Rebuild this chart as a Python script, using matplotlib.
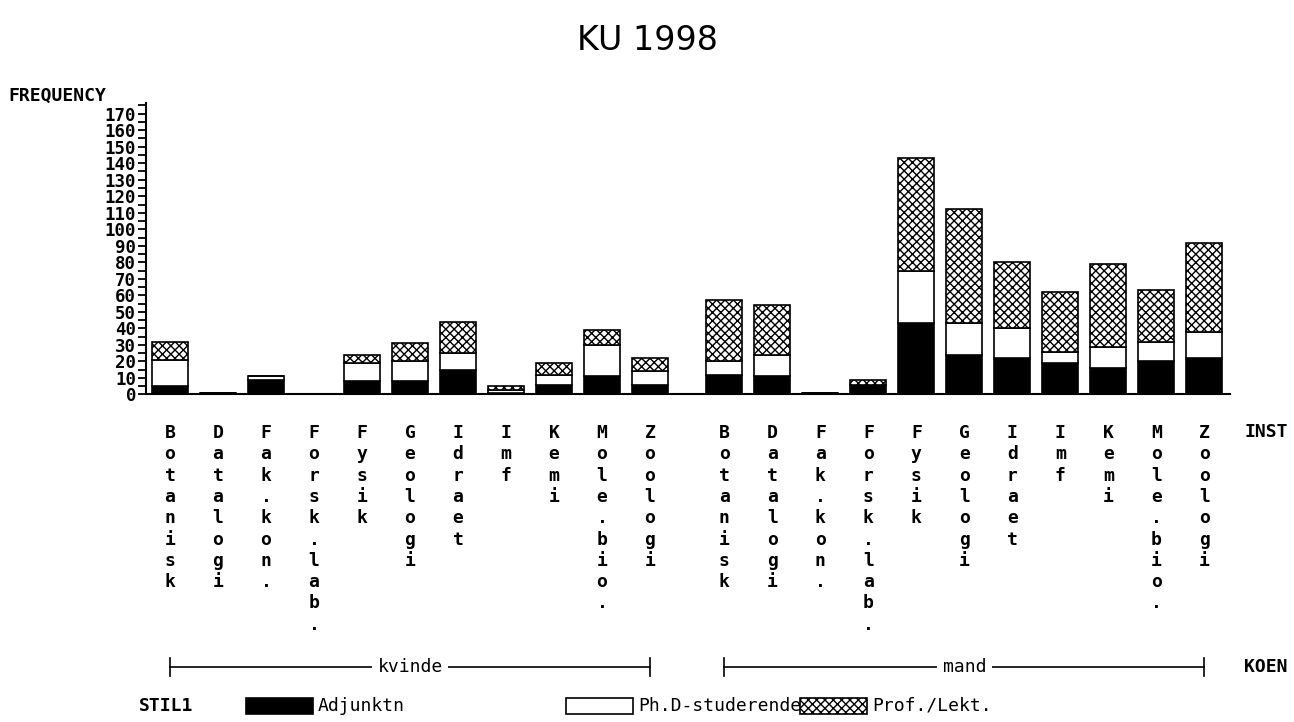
import matplotlib
matplotlib.use("Agg")
import matplotlib.pyplot as plt
from matplotlib.patches import Rectangle
from matplotlib.transforms import blended_transform_factory
from matplotlib.ticker import MultipleLocator
import numpy as np

inst = ["Botanisk", "Datalogi", "Fak.kon.", "Forsk.lab.", "Fysik", "Geologi",
        "Idraet", "Imf", "Kemi", "Mole.bio.", "Zoologi"]
koen = ["kvinde", "mand"]
stil = ["Adjunktn", "Ph.D-studerende", "Prof./Lekt."]

# counts per institute, kvinde
adj_k = [5, 1, 9, 0, 8, 8, 15, 1, 6, 11, 6]
phd_k = [16, 0, 2, 0, 11, 12, 10, 2, 6, 19, 8]
prof_k = [11, 0, 0, 0, 5, 11, 19, 2, 7, 9, 8]
# counts per institute, mand
adj_m = [12, 11, 1, 6, 43, 24, 22, 19, 16, 20, 22]
phd_m = [8, 13, 0, 0, 32, 19, 18, 7, 13, 12, 16]
prof_m = [37, 30, 0, 3, 68, 69, 40, 36, 50, 31, 54]

plt.rcParams['hatch.linewidth'] = 1.0
MONO = "DejaVu Sans Mono"
W, H = 1294, 722

fig = plt.figure(figsize=(W / 100, H / 100), dpi=100)

x0, x1 = 146, 1230
y0, y1 = 394.5, 103
ax = fig.add_axes([x0 / W, 1 - y0 / H, (x1 - x0) / W, (y0 - y1) / H])

n = len(inst)
gap = 1.55
pos_k = np.arange(n)
pos_m = np.arange(n) + n - 1 + gap
pos = np.concatenate([pos_k, pos_m])
adj = np.array(adj_k + adj_m)
phd = np.array(phd_k + phd_m)
prof = np.array(prof_k + prof_m)

bw = 0.75
kw = dict(width=bw, edgecolor="black", linewidth=1.2)
ax.bar(pos, adj, color="black", **kw)
ax.bar(pos, phd, bottom=adj, color="white", **kw)
ax.bar(pos, prof, bottom=adj + phd, color="white", hatch="xxxx", **kw)

ax.set_xlim(-0.5, (x1 - x0) / 48 - 0.5)
ax.set_ylim(0, (y0 - y1) / 1.652)
ax.yaxis.set_major_locator(MultipleLocator(10))
ax.yaxis.set_minor_locator(MultipleLocator(5))
ax.set_xticks([])
ax.spines["top"].set_visible(False)
ax.spines["right"].set_visible(False)
ax.spines["left"].set_linewidth(1.5)
ax.spines["bottom"].set_linewidth(1.5)
ax.tick_params(axis="y", which="major", length=6, width=1.3, pad=1)
ax.tick_params(axis="y", which="minor", length=6, width=1.3)
for t in ax.get_yticklabels():
    t.set_fontfamily(MONO)
    t.set_fontweight("bold")
    t.set_fontsize(12.5)

fig.text(647 / W, 1 - 40 / H, "KU 1998", ha="center", va="center", fontsize=24)
fig.text(8 / W, 1 - 96 / H, "FREQUENCY", ha="left", va="center",
         fontfamily=MONO, fontweight="bold", fontsize=13)

tr = blended_transform_factory(ax.transData, fig.transFigure)
for p, name in zip(pos, inst + inst):
    fig.text(p, 1 - 424 / H, "\n".join(name), transform=tr, ha="center", va="top",
             fontfamily=MONO, fontweight="bold", fontsize=13, linespacing=1.236)

fig.text(1244 / W, 1 - 432 / H, "INST", ha="left", va="center",
         fontfamily=MONO, fontweight="bold", fontsize=13)

yb = 1 - 667 / H
th = 9 / H
for grp, ps in zip(koen, [pos_k, pos_m]):
    a, b = ps[0], ps[-1]
    ax.plot([a, b], [yb, yb], transform=tr, color="black", lw=1.2, clip_on=False)
    ax.plot([a, a], [yb - th, yb + th], transform=tr, color="black", lw=1.2, clip_on=False)
    ax.plot([b, b], [yb - th, yb + th], transform=tr, color="black", lw=1.2, clip_on=False)
    fig.text((a + b) / 2, yb, grp, transform=tr, ha="center", va="center",
             fontfamily=MONO, fontsize=13,
             bbox=dict(facecolor="white", edgecolor="none", pad=4))
fig.text(1244 / W, yb, "KOEN", ha="left", va="center",
         fontfamily=MONO, fontweight="bold", fontsize=13)

# legend row
ly = 1 - 706 / H
fig.text(139 / W, ly, "STIL1", ha="left", va="center",
         fontfamily=MONO, fontweight="bold", fontsize=13)
boxes = [(246, "black", None), (566, "white", None), (800, "white", "xxxx")]
for (bx, fc, hatch), lab in zip(boxes, stil):
    fig.patches.append(Rectangle((bx / W, ly - 8 / H), 67 / W, 16 / H,
                                 transform=fig.transFigure, facecolor=fc,
                                 edgecolor="black", lw=1.2, hatch=hatch))
    fig.text((bx + 72) / W, ly, lab, ha="left", va="center",
             fontfamily=MONO, fontsize=13)

fig.savefig("out.png", dpi=100)
